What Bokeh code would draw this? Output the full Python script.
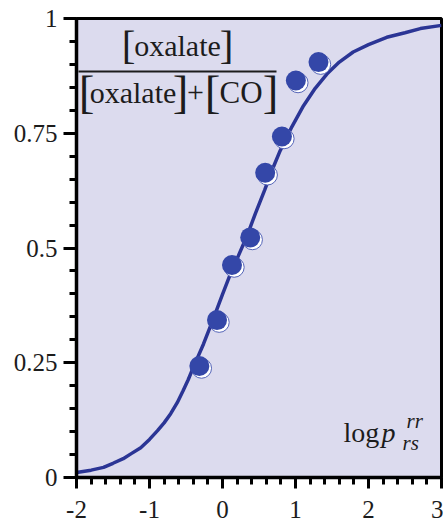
from bokeh.plotting import figure
from bokeh.models import Range1d, FixedTicker, Label, ColumnDataSource
from bokeh.transform import dodge
from bokeh.embed import file_html
from bokeh.resources import INLINE

# ---- data ----
pts_x = [-0.317, -0.075, 0.13, 0.38, 0.585, 0.814, 1.005, 1.315]
pts_y = [0.243, 0.343, 0.463, 0.523, 0.664, 0.743, 0.865, 0.905]

curve_x = [-2.0, -1.8, -1.63, -1.5, -1.36, -1.25, -1.12, -1.0, -0.89, -0.8, -0.71, -0.62,
           -0.54, -0.47, -0.40, -0.26, -0.13, 0.0, 0.11, 0.22, 0.335, 0.45, 0.58, 0.68,
           0.79, 0.95, 1.11, 1.27, 1.43, 1.6, 1.79, 2.0, 2.25, 2.5, 2.71, 3.0]
curve_y = [0.011, 0.016, 0.022, 0.031, 0.041, 0.052, 0.065, 0.083, 0.102, 0.119, 0.139, 0.163,
           0.189, 0.213, 0.240, 0.291, 0.344, 0.399, 0.444, 0.484, 0.526, 0.575, 0.627, 0.670,
           0.712, 0.764, 0.810, 0.848, 0.879, 0.905, 0.927, 0.943, 0.959, 0.969, 0.978, 0.985]

x_ticks = [-2, -1, 0, 1, 2, 3]
x_tick_labels = {-2: "-2", -1: "-1", 0: "0", 1: "1", 2: "2", 3: "3"}
y_ticks = [0, 0.25, 0.5, 0.75, 1]
y_tick_labels = {0: "0", 0.25: "0.25", 0.5: "0.5", 0.75: "0.75", 1: "1"}
x_minor = [round(-2 + 0.2 * i, 2) for i in range(26)]
y_minor = [round(0.05 * i, 2) for i in range(21)]

SERIF = "Liberation Serif"
BG = "#dcdbee"
LINE_C = "#2b3595"
PT_C = "#3447a8"
TXT = "#1c1c1c"

W, H = 443, 529
L, R, T, B = 76, 2, 18, 52

p = figure(width=W, height=H, x_range=Range1d(-2, 3), y_range=Range1d(0, 1),
           output_backend="svg", toolbar_location=None,
           min_border_left=L, min_border_right=R, min_border_top=T, min_border_bottom=B,
           background_fill_color=BG, border_fill_color="white")
p.grid.visible = False
p.outline_line_color = "black"
p.outline_line_width = 3

# axes
xa = p.xaxis[0]
xa.ticker = FixedTicker(ticks=x_ticks, minor_ticks=x_minor)
xa.major_label_overrides = x_tick_labels
ya = p.yaxis[0]
ya.ticker = FixedTicker(ticks=y_ticks, minor_ticks=y_minor)
ya.major_label_overrides = y_tick_labels
for ax in (xa, ya):
    ax.axis_line_color = "black"
    ax.axis_line_width = 3.5
    ax.major_tick_line_color = "black"
    ax.minor_tick_line_color = "black"
    ax.major_tick_line_width = 3
    ax.minor_tick_line_width = 3
    ax.major_tick_in = 0
    ax.minor_tick_in = 0
    ax.major_label_text_font = SERIF
    ax.major_label_text_font_size = "25px"
    ax.major_label_text_color = TXT
xa.major_tick_out = 11
xa.minor_tick_out = 7
xa.major_label_standoff = 12
ya.major_tick_out = 13
ya.minor_tick_out = 7
ya.major_label_standoff = 6

# curve and points
p.line(curve_x, curve_y, line_color=LINE_C, line_width=3.5)
src = ColumnDataSource(dict(x=pts_x, y=pts_y))
p.scatter(x=dodge("x", 0.03, range=p.x_range), y=dodge("y", -0.005, range=p.y_range),
          source=src, size=20, fill_color="white", line_color="#5565b8", line_width=1)
p.scatter("x", "y", source=src, size=20, fill_color=PT_C, line_color=None)

# annotation placement helpers (pixel -> data)
def dx(px):
    return -2 + (px - L) * 5 / (W - L - R)

def dy(py):
    return (H - B - py) / (H - T - B)

def lab(px, py, text, size, align="center", italic=False):
    # py is the desired baseline; the renderer draws the baseline ~0.37em below the anchor
    kw = dict(text_font_style="italic") if italic else {}
    p.add_layout(Label(x=dx(px), y=dy(py - 0.37 * size), text=text, text_font=SERIF,
                       text_font_size=f"{size}px", text_align=align,
                       text_baseline="alphabetic", text_color=TXT, **kw))

# fraction [oxalate] / ([oxalate]+[CO])
lab(177, 56, "oxalate", 30)
lab(128, 60, "[", 41)
lab(226, 60, "]", 41)
p.segment(x0=[dx(78)], y0=[dy(71)], x1=[dx(276)], y1=[dy(71)],
          line_color=TXT, line_width=2)
lab(86, 109, "[", 47)
lab(132.5, 103, "oxalate", 30)
lab(180, 109, "]", 47)
lab(195, 103, "+", 30)
lab(212, 109, "[", 47)
lab(240.5, 103, "CO", 31)
lab(270, 109, "]", 47)

# log p_rs^rr
lab(343, 442, "log", 28, align="left")
lab(381, 442, "p", 28, align="left", italic=True)
lab(406, 428, "rr", 21, align="left", italic=True)
lab(402, 450, "rs", 21, align="left", italic=True)

open("out.html", "w").write(file_html(p, INLINE))
